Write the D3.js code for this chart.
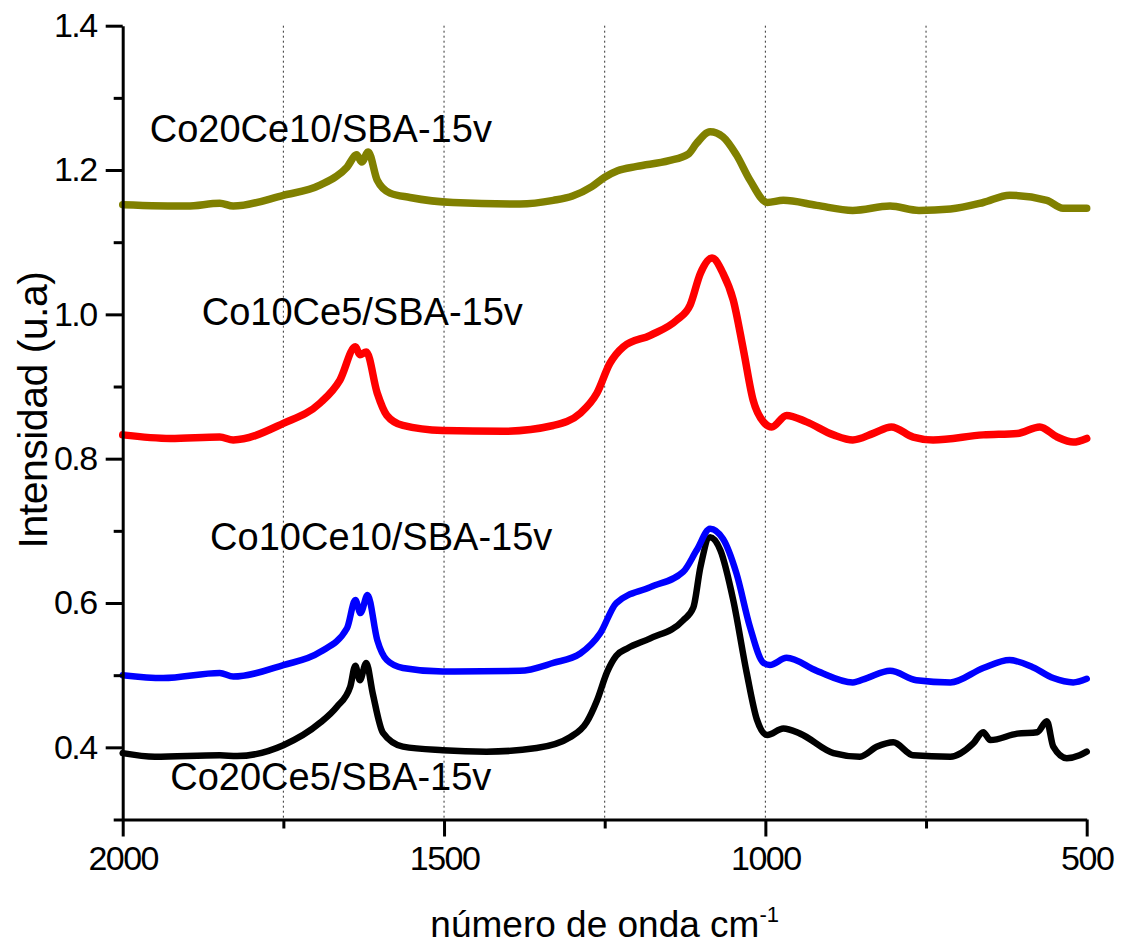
<!DOCTYPE html>
<html>
<head>
<meta charset="utf-8">
<script src="https://cdn.jsdelivr.net/npm/d3@7"></script>
<style>
  body { margin: 0; background: #fff; }
  text { font-family: "Liberation Sans", Arial, sans-serif; fill: #000; }
</style>
</head>
<body>
<div class="chart"></div>
<script>
// Spectra (wavenumber in cm-1, intensity in u.a)
const co20ce5Wn = [2000, 1950, 1849, 1822, 1750, 1693, 1667, 1646, 1638, 1631, 1621, 1611, 1595, 1564, 1502, 1434, 1356, 1304, 1278, 1262, 1246, 1232, 1215, 1179, 1128, 1112, 1101, 1086, 1070, 1050, 1029, 1013, 997, 972, 946, 894, 853, 826, 801, 770, 712, 677, 661, 650, 608, 577, 562, 552, 531, 511, 500];
const co20ce5Val = [0.392, 0.387, 0.389, 0.388, 0.403, 0.434, 0.456, 0.484, 0.513, 0.493, 0.517, 0.475, 0.420, 0.401, 0.396, 0.394, 0.399, 0.414, 0.435, 0.465, 0.505, 0.527, 0.537, 0.551, 0.576, 0.594, 0.650, 0.691, 0.673, 0.604, 0.503, 0.438, 0.417, 0.426, 0.419, 0.392, 0.387, 0.401, 0.407, 0.389, 0.387, 0.405, 0.421, 0.410, 0.419, 0.421, 0.436, 0.401, 0.385, 0.389, 0.394];

const co10ce10Wn = [2000, 1937, 1849, 1828, 1750, 1693, 1651, 1638, 1630, 1619, 1604, 1589, 1564, 1502, 1382, 1330, 1288, 1257, 1232, 1179, 1128, 1107, 1086, 1066, 1045, 1024, 1003, 993, 967, 920, 864, 842, 806, 765, 712, 661, 620, 584, 552, 521, 500];
const co10ce10Val = [0.500, 0.496, 0.503, 0.498, 0.514, 0.532, 0.565, 0.604, 0.586, 0.611, 0.549, 0.521, 0.510, 0.505, 0.506, 0.517, 0.530, 0.558, 0.600, 0.622, 0.643, 0.673, 0.703, 0.689, 0.641, 0.567, 0.517, 0.514, 0.524, 0.506, 0.490, 0.496, 0.506, 0.493, 0.490, 0.510, 0.521, 0.511, 0.496, 0.490, 0.495];

const co10ce5Wn = [2000, 1926, 1849, 1828, 1750, 1693, 1662, 1638, 1631, 1621, 1604, 1589, 1564, 1502, 1408, 1330, 1288, 1262, 1242, 1221, 1179, 1138, 1117, 1101, 1083, 1066, 1050, 1034, 1019, 1003, 990, 967, 936, 894, 864, 832, 804, 770, 739, 661, 608, 573, 546, 521, 500];
const co10ce5Val = [0.833, 0.828, 0.830, 0.826, 0.849, 0.877, 0.909, 0.955, 0.944, 0.948, 0.891, 0.860, 0.846, 0.839, 0.838, 0.846, 0.863, 0.891, 0.932, 0.955, 0.971, 0.992, 1.013, 1.057, 1.078, 1.057, 1.020, 0.950, 0.881, 0.851, 0.844, 0.860, 0.851, 0.833, 0.826, 0.835, 0.844, 0.830, 0.826, 0.833, 0.835, 0.844, 0.830, 0.823, 0.828];

const co20ce10Wn = [2000, 1900, 1849, 1828, 1750, 1693, 1651, 1636, 1628, 1618, 1604, 1584, 1553, 1486, 1382, 1330, 1300, 1270, 1250, 1230, 1200, 1150, 1120, 1107, 1086, 1066, 1045, 1024, 997, 972, 920, 864, 806, 761, 712, 661, 620, 562, 537, 500];
const co20ce10Val = [1.152, 1.150, 1.154, 1.150, 1.165, 1.179, 1.204, 1.221, 1.211, 1.225, 1.186, 1.168, 1.162, 1.155, 1.153, 1.158, 1.164, 1.177, 1.190, 1.199, 1.205, 1.213, 1.222, 1.237, 1.253, 1.246, 1.221, 1.186, 1.155, 1.158, 1.151, 1.144, 1.150, 1.144, 1.146, 1.155, 1.165, 1.158, 1.147, 1.147];

// series names, colours, widths and where their labels sit (data coords)
const seriesNames = ["Co20Ce5/SBA-15v", "Co10Ce10/SBA-15v", "Co10Ce5/SBA-15v", "Co20Ce10/SBA-15v"];
const seriesColors = ["#000000", "#0000ff", "#ff0000", "#808000"];
const seriesWidths = [6.5, 6.5, 7.5, 7.5];
const labelWn = [1926, 1864, 1877, 1958];
const labelVal = [0.341, 0.673, 0.985, 1.239];

const xMajorTicks = [2000, 1500, 1000, 500];
const xMinorTicks = [1750, 1250, 750];
const gridTicks = [1750, 1500, 1250, 1000, 750];
const yMajorTicks = [0.4, 0.6, 0.8, 1.0, 1.2, 1.4];
const yMinorTicks = [0.3, 0.5, 0.7, 0.9, 1.1, 1.3];

const series = [
  { wn: co20ce5Wn, val: co20ce5Val },
  { wn: co10ce10Wn, val: co10ce10Val },
  { wn: co10ce5Wn, val: co10ce5Val },
  { wn: co20ce10Wn, val: co20ce10Val },
].map((s, i) => ({
  name: seriesNames[i],
  color: seriesColors[i],
  width: seriesWidths[i],
  points: s.wn.map((w, j) => ({ wn: w, v: s.val[j] })),
}));

const width = 1122, height = 945;
const margin = { left: 122.7, right: 35.3, top: 25.7, bottom: 125.5 };

const svg = d3.select(".chart").append("svg")
  .attr("width", width)
  .attr("height", height);

const x = d3.scaleLinear().domain([2000, 500]).range([margin.left, width - margin.right]);
const y = d3.scaleLinear().domain([0.3, 1.4]).range([height - margin.bottom, margin.top]);

// dotted vertical grid
svg.append("g").attr("class", "grid")
  .selectAll("line")
  .data(gridTicks)
  .join("line")
  .attr("x1", d => x(d)).attr("x2", d => x(d))
  .attr("y1", y(1.4)).attr("y2", y(0.3))
  .attr("stroke", "#333")
  .attr("stroke-width", 1)
  .attr("stroke-dasharray", "2,3");

// curves
const line = d3.line()
  .x(d => x(d.wn))
  .y(d => y(d.v))
  .curve(d3.curveMonotoneX);

svg.append("g").attr("class", "curves")
  .selectAll("path")
  .data(series)
  .join("path")
  .attr("d", d => line(d.points))
  .attr("fill", "none")
  .attr("stroke", d => d.color)
  .attr("stroke-width", d => d.width)
  .attr("stroke-linejoin", "round")
  .attr("stroke-linecap", "round");

// axes
const xAxisG = svg.append("g").attr("transform", `translate(0,${y(0.3)})`);
xAxisG.call(d3.axisBottom(x).tickValues(xMajorTicks).tickSize(17).tickSizeOuter(0).tickPadding(9).tickFormat(d3.format("d")));
xAxisG.append("g").call(d3.axisBottom(x).tickValues(xMinorTicks).tickSize(9).tickFormat(""))
  .select(".domain").remove();

const yAxisG = svg.append("g").attr("transform", `translate(${x(2000)},0)`);
yAxisG.call(d3.axisLeft(y).tickValues(yMajorTicks).tickSize(17).tickSizeOuter(0).tickPadding(9).tickFormat(d3.format(".1f")));
yAxisG.append("g").call(d3.axisLeft(y).tickValues(yMinorTicks).tickSize(9).tickFormat(""))
  .select(".domain").remove();

svg.selectAll(".domain").attr("stroke", "#000").attr("stroke-width", 3);
svg.selectAll(".tick line").attr("stroke", "#000").attr("stroke-width", 3);
svg.selectAll(".tick text")
  .style("font-family", '"Liberation Sans", Arial, sans-serif')
  .style("font-size", "34px")
  .style("letter-spacing", "-1.5px")
  .attr("fill", "#000");

// series labels
svg.append("g").attr("class", "labels")
  .selectAll("text")
  .data(series)
  .join("text")
  .attr("x", (d, i) => x(labelWn[i]))
  .attr("y", (d, i) => y(labelVal[i]))
  .style("font-size", "38px")
  .text(d => d.name);

// axis titles
svg.append("text")
  .attr("transform", `translate(47,410) rotate(-90)`)
  .attr("text-anchor", "middle")
  .style("font-size", "41px")
  .style("letter-spacing", "-0.5px")
  .text("Intensidad (u.a)");

const xTitle = svg.append("text")
  .attr("x", (x(2000) + x(500)) / 2)
  .attr("y", 937)
  .attr("text-anchor", "middle")
  .style("font-size", "37px");
xTitle.append("tspan").text("número de onda cm");
xTitle.append("tspan").attr("dy", -15).style("font-size", "22px").text("-1");
</script>
</body>
</html>
